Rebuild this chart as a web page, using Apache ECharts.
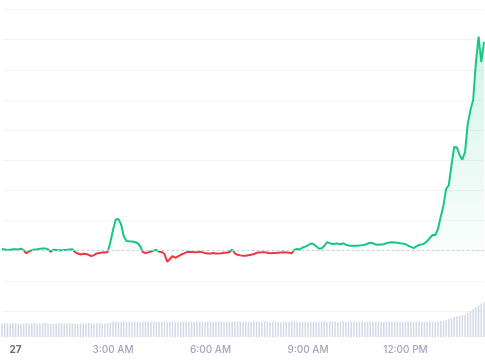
<!DOCTYPE html>
<html><head><meta charset="utf-8">
<script src="https://cdn.jsdelivr.net/npm/echarts@6/dist/echarts.min.js"></script>
<style>html,body{margin:0;padding:0;background:#fff}#c{width:485px;height:360px}</style>
</head><body><div id="c"></div>
<script>
// time grid: 5-minute steps starting 23:35 on the 26th (minutes relative to midnight of the 27th)
const startMinute = -25;
const stepMinutes = 5;

const prices = [
 100.11,100.08,100.05,100.07,100.09,100.09,100.08,100.13,100.03,99.83,
 99.95,100.03,100.08,100.10,100.13,100.15,100.15,100.08,99.93,100.07,
 100.05,100.03,100.03,100.05,100.06,100.08,100.09,99.91,99.81,99.75,
 99.80,99.78,99.73,99.64,99.71,99.82,99.85,99.88,99.88,99.91,
 100.54,101.37,102.07,102.10,101.74,100.94,100.64,100.62,100.61,100.58,
 100.51,100.31,99.91,99.85,99.89,99.95,100.01,100.06,99.93,99.91,
 99.78,99.27,99.45,99.65,99.53,99.63,99.73,99.81,99.89,99.91,
 99.91,99.90,99.89,99.93,99.89,99.85,99.82,99.81,99.85,99.81,
 99.82,99.83,99.87,99.87,99.91,100.08,99.83,99.73,99.69,99.67,
 99.67,99.70,99.73,99.78,99.86,99.88,99.89,99.89,99.86,99.83,
 99.84,99.85,99.87,99.88,99.89,99.88,99.86,99.83,100.07,100.11,
 100.08,100.21,100.27,100.36,100.48,100.44,100.29,100.15,100.15,100.31,
 100.56,100.50,100.44,100.46,100.47,100.43,100.49,100.40,100.35,100.33,
 100.33,100.33,100.35,100.37,100.40,100.46,100.53,100.50,100.41,100.39,
 100.41,100.43,100.50,100.54,100.56,100.54,100.52,100.49,100.47,100.43,
 100.33,100.25,100.17,100.29,100.38,100.42,100.48,100.64,100.84,101.04,
 101.04,101.44,102.24,102.97,104.09,104.35,105.69,106.88,106.85,106.35,
 106.04,106.55,108.41,109.34,110.00,112.46,114.20,112.52,113.85
];

const volumes = [
 27,28,27,27,28,27,27,26,27,28,
 27,27,28,27,27,27,28,27,26,27,
 27,28,27,27,27,28,27,27,26,27,
 27,27,28,27,27,27,28,27,27,28,
 29,31,31,30,31,31,30,31,31,31,
 30,31,31,31,30,31,31,30,31,31,
 31,30,31,31,30,31,31,31,30,31,
 31,30,31,31,31,30,31,31,30,31,
 31,31,30,31,31,30,31,31,31,30,
 31,31,30,31,31,31,30,31,31,30,
 31,31,31,30,31,31,30,31,31,31,
 30,31,31,30,31,31,31,30,31,31,
 30,31,31,31,30,31,31,30,31,31,
 31,30,31,31,30,31,31,31,30,31,
 31,30,31,31,31,30,31,31,30,31,
 31,31,30,31,31,30,31,31,31,30,
 31,31,32,32,33,36,38,40,41,42,
 44,45,48,52,56,60,63,67,70
];

const baselinePrice = 100;
const tickLabels = ["27", "3:00 AM", "6:00 AM", "9:00 AM", "12:00 PM"];
const tickMinutes = [0, 180, 360, 540, 720];

const categories = prices.map((_, i) => String(startMinute + i * stepMinutes));

const GREEN = '#16c784', RED = '#ea3943';
const W = 485, H = 360;

const chart = echarts.init(document.getElementById('c'), null, {renderer: 'canvas'});
chart.setOption({
  animation: false,
  backgroundColor: '#ffffff',
  textStyle: {fontFamily: 'Inter'},
  grid: [
    {left: 2, right: 1, top: 9.5, height: 301.5},
    {left: 2, right: 1, top: 287, height: 50}
  ],
  xAxis: [
    {type: 'category', gridIndex: 0, data: categories, boundaryGap: false,
     axisLine: {show: false}, axisTick: {show: false}, axisLabel: {show: false}, splitLine: {show: false}},
    {type: 'category', gridIndex: 1, data: categories, boundaryGap: false,
     axisLine: {show: false}, axisTick: {show: false}, splitLine: {show: false},
     axisLabel: {
       show: true, margin: 8, fontSize: 10, fontFamily: 'Inter', fontWeight: 500, color: '#a1a7bb',
       interval: (idx, val) => tickMinutes.indexOf(Number(val)) >= 0,
       formatter: (val) => {
         const k = tickMinutes.indexOf(Number(val));
         if (k < 0) return '';
         return k === 0 ? '{day|' + tickLabels[k] + '}' : tickLabels[k];
       },
       rich: {day: {fontWeight: 700, color: '#616e85', fontSize: 10, fontFamily: 'Inter'}}
     }}
  ],
  yAxis: [
    {type: 'value', gridIndex: 0, min: 96, max: 116, interval: 2,
     axisLine: {show: false}, axisTick: {show: false}, axisLabel: {show: false},
     splitLine: {show: true, lineStyle: {color: '#f1f3f6', width: 1}}},
    {type: 'value', gridIndex: 1, min: 0, max: 100,
     axisLine: {show: false}, axisTick: {show: false}, axisLabel: {show: false}, splitLine: {show: false}}
  ],
  series: [
    {
      id: 'fill', type: 'line', xAxisIndex: 0, yAxisIndex: 0, data: prices, showSymbol: false, silent: true,
      lineStyle: {width: 0, opacity: 0},
      areaStyle: {
        origin: baselinePrice,
        color: new echarts.graphic.LinearGradient(0, 0, 0, 1, [
          {offset: 0, color: 'rgba(22,199,132,0.28)'},
          {offset: 1, color: 'rgba(22,199,132,0.02)'}
        ])
      },
      markLine: {
        silent: true, symbol: ['none', 'none'], label: {show: false},
        lineStyle: {type: [2, 3], color: '#c5cbd5', width: 1},
        data: [{yAxis: baselinePrice}]
      },
      z: 1
    },
    {
      id: 'price', type: 'line', xAxisIndex: 0, yAxisIndex: 0, data: prices, showSymbol: false,
      smooth: false, lineStyle: {width: 2, color: GREEN}, z: 3
    },
    {
      type: 'bar', xAxisIndex: 1, yAxisIndex: 1, data: volumes, barWidth: 1.5,
      itemStyle: {color: '#d3d9e6'}, z: 2
    }
  ]
});

// colour the price line green above the baseline and red below it (hard split at the baseline's pixel row)
const basePx = chart.convertToPixel({yAxisIndex: 0}, baselinePrice);
const off = basePx / H;
chart.setOption({
  series: [{
    id: 'price',
    lineStyle: {
      color: new echarts.graphic.LinearGradient(0, 0, 0, H, [
        {offset: 0, color: GREEN}, {offset: off, color: GREEN},
        {offset: off, color: RED}, {offset: 1, color: RED}
      ], true)
    }
  }]
});
</script>
</body></html>
